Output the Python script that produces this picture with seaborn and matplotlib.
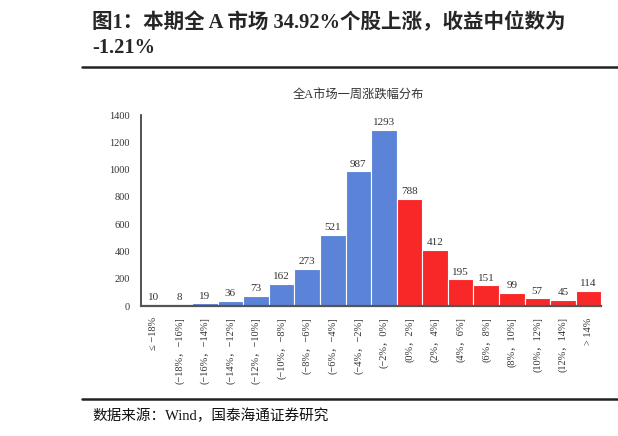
import matplotlib
matplotlib.use('Agg')
import matplotlib.pyplot as plt
import seaborn as sns
import pandas as pd

bins = ['≤ −18%', '(−18%，−16%]', '(−16%，−14%]', '(−14%，−12%]', '(−12%，−10%]',
        '(−10%，−8%]', '(−8%，−6%]', '(−6%，−4%]', '(−4%，−2%]', '(−2%，0%]',
        '(0%，2%]', '(2%，4%]', '(4%，6%]', '(6%，8%]', '(8%，10%]',
        '(10%，12%]', '(12%，14%]', '> 14%']
counts = [10, 8, 19, 36, 73, 162, 273, 521, 987, 1293,
          788, 412, 195, 151, 99, 57, 45, 114]
side = ['down'] * 10 + ['up'] * 8

sns.set_theme(style='white')
plt.rcParams['font.family'] = ['Liberation Serif', 'Noto Sans CJK SC']
plt.rcParams['axes.unicode_minus'] = False

df = pd.DataFrame({'bin': bins, 'count': counts, 'side': side})

fig = plt.figure(figsize=(6.18, 4.36), dpi=100)
ax = fig.add_axes([0.228, 0.298, 0.745, 0.438])
sns.barplot(data=df, x='bin', y='count', hue='side',
            palette={'down': '#5B84D8', 'up': '#F92828'}, saturation=1,
            width=1.0, edgecolor='white', linewidth=0.8,
            dodge=False, legend=False, ax=ax)
for c in ax.containers:
    ax.bar_label(c, padding=2, fontsize=8, color='#333333')

ax.set_xlim(-0.5, len(bins) - 0.5)
ax.set_ylim(0, 1400)
ax.set_yticks(range(0, 1401, 200))
ax.set_xlabel('')
ax.set_ylabel('')
ax.tick_params(axis='y', labelsize=7.5, colors='#333333', length=0, pad=8)
ax.tick_params(axis='x', labelsize=7.5, colors='#333333', length=0, pad=8)
ax.set_xticks(range(len(bins)))
ax.set_xticklabels(bins, rotation=90, va='top', ha='center')
for s in ['top', 'right']:
    ax.spines[s].set_visible(False)
ax.spines['left'].set_color('#333333')
ax.spines['left'].set_linewidth(1.2)
ax.spines['bottom'].set_color('#555555')
ax.spines['bottom'].set_linewidth(1.6)
ax.set_title('全A市场一周涨跌幅分布', fontsize=8.8, color='#333333', pad=12, x=0.472)

fig.text(0.149, 0.948, '图1：本期全 A 市场 34.92%个股上涨，收益中位数为',
         fontsize=14.8, fontweight='bold', va='center', ha='left')
fig.text(0.149, 0.890, '-1.21%', fontsize=14.8, fontweight='bold', va='center', ha='left')
fig.add_artist(plt.Line2D([0.133, 1.0], [0.846, 0.846], color='#222222', lw=1.8))
fig.add_artist(plt.Line2D([0.133, 1.0], [0.085, 0.085], color='#222222', lw=1.8))
fig.text(0.149, 0.046, '数据来源：Wind，国泰海通证券研究', fontsize=10.5,
         va='center', ha='left', color='#111111')

fig.savefig('out.png', dpi=100)
